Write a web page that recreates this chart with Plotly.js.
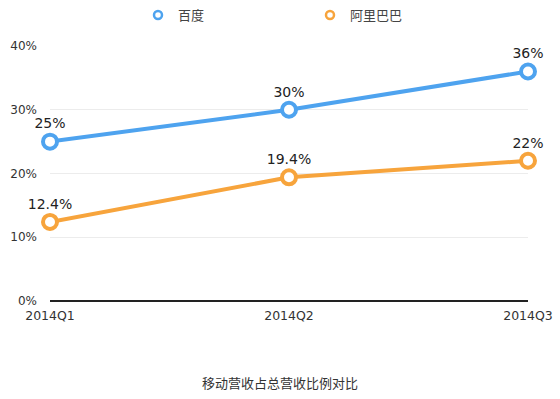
<!DOCTYPE html>
<html>
<head>
<meta charset="utf-8">
<script src="https://cdn.plot.ly/plotly-3.0.1.min.js"></script>
<style>html,body{margin:0;padding:0;background:#fff;}#chart{width:560px;height:399px;}</style>
</head>
<body>
<div id="chart"></div>
<script>
const categories = ['2014Q1', '2014Q2', '2014Q3'];
const baiduValues = [25, 30, 36];
const alibabaValues = [12.4, 19.4, 22];
const baiduLabels = ['25%', '30%', '36%'];
const alibabaLabels = ['12.4%', '19.4%', '22%'];
const seriesNames = ['百度', '阿里巴巴'];
const seriesColors = ['#4ea3ef', '#f7a43c'];
const yTickVals = [0, 10, 20, 30, 40];
const yTickText = ['0%', '10%', '20%', '30%', '40%'];
const titleText = '移动营收占总营收比例对比';

const fontFamily = '"DejaVu Sans", "Noto Sans CJK SC", sans-serif';
const cjkFont = '"Noto Sans CJK SC", sans-serif';

function series(name, y, labels, color) {
  return {
    type: 'scatter',
    mode: 'lines+markers+text',
    name: name,
    x: categories,
    y: y,
    text: labels,
    textposition: 'top center',
    textfont: {family: fontFamily, size: 14, color: '#222'},
    cliponaxis: false,
    showlegend: false,
    line: {color: color, width: 4},
    marker: {symbol: 'circle', size: 14, color: '#fff', line: {color: color, width: 4}}
  };
}

function legendEntry(name, color) {
  return {
    type: 'scatter',
    mode: 'markers',
    name: name,
    x: [null],
    y: [null],
    showlegend: true,
    marker: {symbol: 'circle', size: 8, color: '#fff', line: {color: color, width: 2.5}}
  };
}

const data = [
  series(seriesNames[0], baiduValues, baiduLabels, seriesColors[0]),
  series(seriesNames[1], alibabaValues, alibabaLabels, seriesColors[1]),
  legendEntry(seriesNames[0], seriesColors[0]),
  legendEntry(seriesNames[1], seriesColors[1])
];

const layout = {
  width: 560,
  height: 399,
  margin: {l: 50, r: 32, t: 46, b: 98},
  paper_bgcolor: '#fff',
  plot_bgcolor: '#fff',
  font: {family: fontFamily, size: 12, color: '#333'},
  showlegend: true,
  legend: {
    orientation: 'h',
    xref: 'container', x: 138 / 560, xanchor: 'left',
    yref: 'container', y: 1, yanchor: 'top',
    entrywidth: 127, entrywidthmode: 'pixels',
    font: {family: cjkFont, size: 13, color: '#444'},
    itemwidth: 30,
    traceorder: 'normal'
  },
  xaxis: {
    type: 'category',
    range: [0, 2],
    showgrid: false,
    showline: false,
    zeroline: false,
    ticks: '',
    tickfont: {family: fontFamily, size: 12.5, color: '#333'},
    ticklabelstandoff: 5,
    fixedrange: true
  },
  yaxis: {
    range: [0, 40],
    tickvals: yTickVals,
    ticktext: yTickText,
    showgrid: true,
    gridcolor: '#ececec',
    gridwidth: 1,
    zeroline: true,
    zerolinecolor: '#222',
    zerolinewidth: 1.5,
    showline: false,
    ticks: '',
    ticklabelstandoff: 12,
    tickfont: {family: fontFamily, size: 12, color: '#333'},
    fixedrange: true
  },
  title: {
    text: titleText,
    x: 0.5, xref: 'container', xanchor: 'center',
    y: 0.04, yref: 'container', yanchor: 'middle',
    font: {family: cjkFont, size: 13, color: '#333'}
  }
};

Plotly.newPlot('chart', data, layout, {displayModeBar: false, staticPlot: true});
</script>
</body>
</html>
